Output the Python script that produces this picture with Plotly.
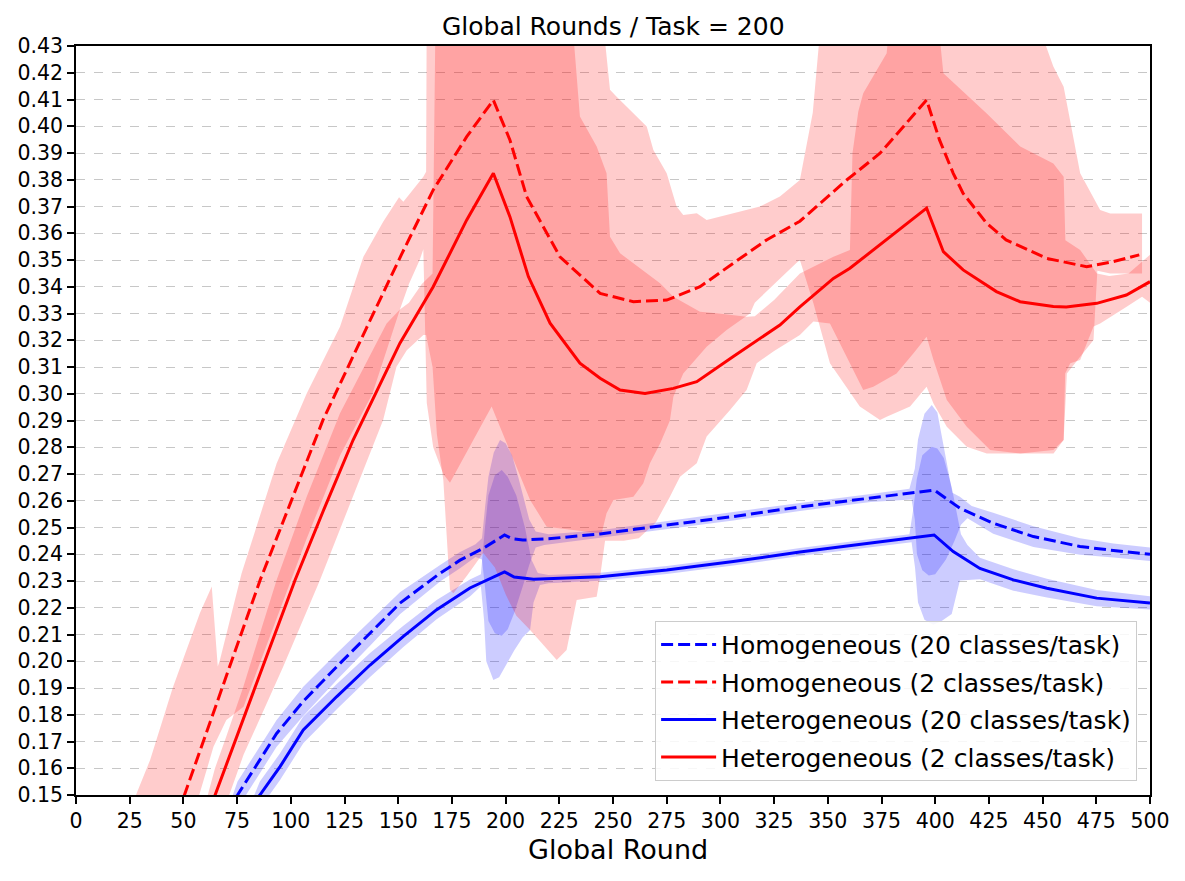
import plotly.graph_objects as go

# ------------------------------------------------------------------
# Mean curves
# ------------------------------------------------------------------
hom20_x = [70, 75.2, 93.4, 105.8, 121.4, 136.9, 150.8, 169.5, 178.8, 189.6, 199.5, 203, 208, 220,
           244, 275, 306, 337, 370, 399.5, 411.5, 427, 445.7, 467.4, 483, 500]
hom20_y = [0.144, 0.150, 0.173, 0.185, 0.198, 0.2105, 0.2217, 0.2329, 0.2378, 0.2422, 0.2472, 0.2458,
           0.2453, 0.2458, 0.2476, 0.2509, 0.2541, 0.2577, 0.2610, 0.2640, 0.2572, 0.2516, 0.2466,
           0.2429, 0.2414, 0.2400]

hom2_x = [45, 50.7, 60, 70, 85.7, 100, 115, 135, 151.5, 166.3, 181.9, 194.3, 202, 209.8, 225.3, 244,
          259.5, 275, 290.5, 306, 321.5, 337, 358.8, 374.3, 396, 402, 408.4, 413, 424, 433, 452,
          470.5, 483, 495]
hom2_y = [0.1375, 0.1506, 0.172, 0.1946, 0.2303, 0.2595, 0.2902, 0.3242, 0.3520, 0.3762, 0.3961,
          0.4098, 0.3949, 0.3737, 0.3512, 0.3375, 0.3344, 0.3350, 0.3400, 0.3488, 0.3575, 0.3645,
          0.3799, 0.3899, 0.4098, 0.3949, 0.3824, 0.3749, 0.3637, 0.3575, 0.3506, 0.3475, 0.3494,
          0.3519]

het20_x = [80, 85.6, 95, 105.8, 121.4, 136.9, 152.4, 167.9, 183.4, 199.5, 204, 213, 244, 275, 306,
           337, 370, 399.5, 408.4, 420.8, 436.4, 452, 475.2, 500]
het20_y = [0.144, 0.150, 0.1606, 0.1743, 0.1868, 0.1986, 0.2093, 0.2193, 0.2274, 0.2334, 0.2315,
           0.2307, 0.2316, 0.2341, 0.2373, 0.2408, 0.2442, 0.2472, 0.2410, 0.2347, 0.2304, 0.2273,
           0.2236, 0.2218]

het2_x = [60, 64.7, 75, 90, 102, 115, 129, 140, 150.8, 166.3, 181.9, 194.3, 202, 210.6, 220.7, 234.6,
          244, 253.3, 264.9, 278.1, 289, 306, 315.3, 327.7, 337, 352.6, 360.3, 374.3, 396, 403.8,
          413, 428.5, 439.5, 455, 461, 475.2, 489, 500]
het2_y = [0.1397, 0.150, 0.1722, 0.2046, 0.2304, 0.2560, 0.2827, 0.3010, 0.3189, 0.3400, 0.3650,
          0.3824, 0.3662, 0.3438, 0.3264, 0.3114, 0.3058, 0.3014, 0.3001, 0.3020, 0.3045, 0.3139,
          0.3189, 0.3257, 0.3325, 0.3431, 0.3469, 0.3556, 0.3694, 0.3531, 0.3463, 0.3382, 0.3344,
          0.3326, 0.3324, 0.3338, 0.3369, 0.3419]

# ------------------------------------------------------------------
# Spread bands: upper and lower boundaries
# ------------------------------------------------------------------
hom2_hi_x = [25, 28.2, 34.5, 45, 57.7, 63.2, 66, 67, 77.1, 93.4, 98.1, 107.4, 122.9, 133.8, 143,
             150.4, 152.4, 161.7, 163.0, 163.3, 244, 248.6, 251.7, 265.7, 268.8, 275, 279.6, 282.7,
             289, 293.6, 306, 318.4, 327.7, 337, 343, 348, 442.7, 455, 459.8, 467.5, 476.8, 481.5,
             496.3]
hom2_hi_y = [0.143, 0.1506, 0.1631, 0.190, 0.218, 0.2279, 0.198, 0.2005, 0.2329, 0.2739, 0.2827,
             0.3001, 0.3250, 0.3512, 0.3643, 0.3735, 0.3718, 0.3811, 0.3830, 0.45, 0.45, 0.4136,
             0.4110, 0.3999, 0.3911, 0.3824, 0.3700, 0.3668, 0.3675, 0.3650, 0.3675, 0.3700,
             0.3737, 0.3799, 0.4050, 0.45, 0.45, 0.4223, 0.4148, 0.3824, 0.3687, 0.3674, 0.3674]
hom2_lo_x = [25, 50, 64, 70, 78, 93.4, 107, 123, 138, 150.8, 155, 160, 161.7, 163.3, 166.3, 171,
             174.1, 193.5, 200.5, 211.4, 219.1, 229.9, 244.7, 247, 250.2, 259.5, 264.1, 267.2, 272,
             276.5, 278.1, 282.7, 293.6, 302.9, 313.8, 316, 335.5, 337, 343.3, 351, 364.9, 374.3,
             377.4, 388.3, 396, 399.2, 405.4, 414.7, 424, 455.1, 459.8, 461.3, 467.5, 473.7, 475.5,
             481.5, 496.3]
hom2_lo_y = [0.100, 0.130, 0.168, 0.178, 0.183, 0.216, 0.245, 0.277, 0.300, 0.3315, 0.341, 0.350,
             0.354, 0.2965, 0.2800, 0.2700, 0.2667, 0.2952, 0.2815, 0.2603, 0.2503, 0.2491, 0.2478,
             0.2553, 0.2603, 0.2615, 0.2665, 0.2740, 0.2815, 0.2900, 0.2989, 0.3076, 0.3176,
             0.3238, 0.3300, 0.3340, 0.3490, 0.3500, 0.3338, 0.3114, 0.2952, 0.2902, 0.2914,
             0.2952, 0.3026, 0.2964, 0.2877, 0.2802, 0.2777, 0.2777, 0.2827, 0.3076, 0.3138,
             0.3201, 0.3460, 0.3450, 0.3450]

het2_hi_x = [58, 64.7, 70, 77.9, 93.4, 107.4, 122.9, 138.4, 144.6, 150.8, 155, 161, 166, 167.5, 230,
             234.6, 242.4, 247, 248.6, 253.3, 259.5, 271.9, 278.1, 290.5, 298.3, 312.2, 316, 325,
             337, 352.6, 360.3, 361.5, 364.2, 366.5, 377.4, 380, 400, 403.8, 424, 439.6, 455,
             459.8, 460.6, 467.5, 475.3, 481, 490, 500]
het2_hi_y = [0.140, 0.160, 0.172, 0.1905, 0.2304, 0.2615, 0.2927, 0.3163, 0.3263, 0.3315, 0.3340,
             0.3410, 0.3450, 0.45, 0.45, 0.4036, 0.3924, 0.3824, 0.3587, 0.3525, 0.3488, 0.3413,
             0.3363, 0.3307, 0.3301, 0.3288, 0.3290, 0.3350, 0.3450, 0.3512, 0.3537, 0.3900,
             0.4055, 0.4123, 0.4273, 0.45, 0.45, 0.4198, 0.4048, 0.3924, 0.3861, 0.3811, 0.3574,
             0.3537, 0.3450, 0.3440, 0.3450, 0.3520]
het2_lo_x = [58, 64.7, 78, 96.5, 113.6, 129, 143, 149.2, 154, 161.7, 163, 166, 168, 171, 174.1,
             175.7, 182, 189.6, 195, 200, 205, 211.4, 223.8, 228.4, 233.1, 242.4, 244, 246.3, 255,
             262, 270, 276.5, 281.2, 289, 293.6, 304.5, 312.2, 316.9, 325, 337, 343.3, 351, 358,
             366.5, 371.2, 382, 389.9, 396, 399.2, 405.4, 414.7, 425.6, 439.6, 455, 459.8, 460.5,
             462.9, 467.5, 473.7, 476.8, 489.3, 496.3, 500]
het2_lo_y = [0.120, 0.135, 0.165, 0.198, 0.2304, 0.262, 0.2902, 0.3101, 0.3163, 0.3220, 0.3220,
             0.3100, 0.2850, 0.2678, 0.2266, 0.2254, 0.2320, 0.2405, 0.2350, 0.2250, 0.2170,
             0.2117, 0.2005, 0.2042, 0.2229, 0.2241, 0.2316, 0.2450, 0.2450, 0.2460, 0.2520,
             0.2615, 0.2690, 0.2740, 0.2840, 0.2939, 0.3014, 0.3114, 0.3160, 0.3220, 0.3270,
             0.3263, 0.3150, 0.3014, 0.3026, 0.3076, 0.3151, 0.3213, 0.3126, 0.2977, 0.2877,
             0.2790, 0.2777, 0.2790, 0.2827, 0.3076, 0.3114, 0.3126, 0.3251, 0.3263, 0.3326,
             0.3363, 0.3340]

hom20_hi_x = [73, 75.2, 93.4, 105.8, 121.4, 136.9, 150.8, 169.5, 178.8, 186, 189, 190.5, 192, 194.5,
              197.4, 200, 203, 206, 208.3, 211, 214, 220, 244, 275, 306, 337, 370, 388, 390.5, 392,
              395, 398.4, 401, 405.3, 408, 411.5, 417, 427, 445.7, 467.4, 483, 500]
hom20_hi_y = [0.150, 0.155, 0.178, 0.1905, 0.203, 0.2152, 0.2258, 0.2360, 0.2408, 0.2437, 0.2460,
              0.2580, 0.2690, 0.2780, 0.2827, 0.2815, 0.2770, 0.2685, 0.2610, 0.2530, 0.2485,
              0.2475, 0.2490, 0.2524, 0.2556, 0.2592, 0.2625, 0.2645, 0.2720, 0.2830, 0.2925,
              0.2958, 0.2930, 0.2739, 0.2630, 0.2615, 0.2580, 0.2555, 0.2505, 0.2460, 0.2440,
              0.2425]
hom20_lo_x = [73, 75.2, 93.4, 105.8, 121.4, 136.9, 150.8, 169.5, 178.8, 186, 189, 190.5, 192, 195,
              198.2, 201, 204, 208, 211, 214, 218, 244, 275, 306, 337, 370, 389, 390.5, 391.5, 394,
              397, 400, 405, 409, 412, 415, 427, 445.7, 467.4, 483, 500]
hom20_lo_y = [0.140, 0.145, 0.168, 0.1795, 0.193, 0.2058, 0.2176, 0.2298, 0.2348, 0.2390, 0.2380,
              0.2270, 0.2150, 0.2105, 0.2095, 0.2120, 0.2180, 0.2280, 0.2360, 0.2425, 0.2435,
              0.2460, 0.2494, 0.2526, 0.2562, 0.2595, 0.2605, 0.2530, 0.2400, 0.2340, 0.2321,
              0.2325, 0.2380, 0.2450, 0.2510, 0.2535, 0.2477, 0.2427, 0.2398, 0.2388, 0.2375]

het20_hi_x = [83, 85.6, 95, 105.8, 121.4, 136.9, 152.4, 167.9, 183.4, 188.5, 190.4, 192, 195, 198.2,
              201, 205, 209, 212, 215, 220, 244, 275, 306, 337, 370, 388, 390, 391.4, 394, 398.4,
              401, 404, 407.7, 410, 412, 415, 420.8, 436.4, 452, 475.2, 500]
het20_hi_y = [0.150, 0.155, 0.1656, 0.1793, 0.1915, 0.2031, 0.2133, 0.2229, 0.2306, 0.2325,
              0.2500, 0.2620, 0.2695, 0.2715, 0.2690, 0.2620, 0.2500, 0.2380, 0.2330, 0.2322,
              0.2331, 0.2356, 0.2388, 0.2423, 0.2457, 0.2475, 0.2580, 0.2680, 0.2770, 0.2802,
              0.2795, 0.2760, 0.2650, 0.2550, 0.2475, 0.2435, 0.2387, 0.2344, 0.2308, 0.2266,
              0.2243]
het20_lo_x = [83, 85.6, 95, 105.8, 121.4, 136.9, 152.4, 167.9, 183.4, 188.5, 190, 191, 194.3, 197,
              200, 204, 208, 211.4, 213, 216, 220, 244, 275, 306, 337, 370, 389, 390.6, 392, 395,
              399.1, 403, 407.7, 411.5, 415, 420.8, 436.4, 452, 475.2, 500]
het20_lo_y = [0.140, 0.145, 0.1556, 0.1693, 0.1821, 0.1941, 0.2053, 0.2157, 0.2242, 0.2280,
              0.2150, 0.2000, 0.1930, 0.1940, 0.1980, 0.2040, 0.2090, 0.2117, 0.2220, 0.2285,
              0.2292, 0.2301, 0.2326, 0.2358, 0.2393, 0.2427, 0.2445, 0.2350, 0.2220, 0.2155,
              0.2136, 0.2150, 0.2177, 0.2302, 0.2305, 0.2307, 0.2264, 0.2238, 0.2206, 0.2193]

x_ticks = list(range(0, 501, 25))
y_ticks = [round(0.15 + 0.01 * i, 2) for i in range(29)]

BLUE = "#0000ff"
RED = "#ff0000"
BLUE_FILL = "rgba(0,0,255,0.2)"
RED_FILL = "rgba(255,0,0,0.2)"

fig = go.Figure()


def add_band(hx, hy, lx, ly, color):
    fig.add_trace(go.Scatter(
        x=list(hx) + list(lx)[::-1],
        y=list(hy) + list(ly)[::-1],
        fill="toself", fillcolor=color, mode="lines",
        line=dict(width=0, color=color), hoverinfo="skip", showlegend=False))


add_band(hom20_hi_x, hom20_hi_y, hom20_lo_x, hom20_lo_y, BLUE_FILL)
add_band(hom2_hi_x, hom2_hi_y, hom2_lo_x, hom2_lo_y, RED_FILL)
add_band(het20_hi_x, het20_hi_y, het20_lo_x, het20_lo_y, BLUE_FILL)
add_band(het2_hi_x, het2_hi_y, het2_lo_x, het2_lo_y, RED_FILL)

DASH = "12px,5px"
series = [
    ("Homogeneous (20 classes/task)", hom20_x, hom20_y, BLUE, DASH),
    ("Homogeneous (2 classes/task)", hom2_x, hom2_y, RED, DASH),
    ("Heterogeneous (20 classes/task)", het20_x, het20_y, BLUE, "solid"),
    ("Heterogeneous (2 classes/task)", het2_x, het2_y, RED, "solid"),
]
for i, (name, xs, ys, col, dash) in enumerate(series):
    fig.add_trace(go.Scatter(x=xs, y=ys, mode="lines", name=name, legendgroup=f"g{i}",
                             line=dict(color=col, width=3, dash=dash)))

FONT = "DejaVu Sans"
fig.update_layout(
    width=1185, height=881,
    margin=dict(l=76, r=35, t=46, b=86),
    paper_bgcolor="white", plot_bgcolor="white",
    font=dict(family=FONT, color="black", size=20),
    title=dict(text="Global Rounds / Task = 200", x=0.5175, xanchor="center",
               y=1 - 26 / 881, yanchor="middle", yref="container",
               font=dict(size=25, family=FONT, color="black")),
    legend=dict(x=0.988, y=0.019, xanchor="right", yanchor="bottom",
                bgcolor="rgba(255,255,255,0.85)", bordercolor="#cccccc", borderwidth=1,
                font=dict(size=25, family=FONT, color="black"), tracegroupgap=2,
                itemwidth=55),
    annotations=[dict(text="Global Round", x=0.505, y=-0.073, xref="paper", yref="paper",
                      xanchor="center", yanchor="middle", showarrow=False,
                      font=dict(size=27, family=FONT, color="black"))],
)
fig.update_xaxes(range=[0, 500], tickmode="array", tickvals=x_ticks,
                 ticktext=[str(v) for v in x_ticks],
                 showline=True, linecolor="black", linewidth=1.5, mirror=True,
                 ticks="outside", ticklen=7, tickwidth=1.5, tickcolor="black",
                 showgrid=False, zeroline=False,
                 tickfont=dict(size=20.5, family=FONT, color="black"))
fig.update_yaxes(range=[0.15, 0.43], tickmode="array", tickvals=y_ticks,
                 ticktext=[f"{v:.2f}" for v in y_ticks],
                 showline=True, linecolor="black", linewidth=1.5, mirror=True,
                 ticks="outside", ticklen=7, tickwidth=1.5, tickcolor="black",
                 showgrid=True, gridcolor="rgba(0,0,0,0.22)", griddash="dash", gridwidth=1,
                 zeroline=False,
                 tickfont=dict(size=20.5, family=FONT, color="black"))

fig.write_html("out.html")
